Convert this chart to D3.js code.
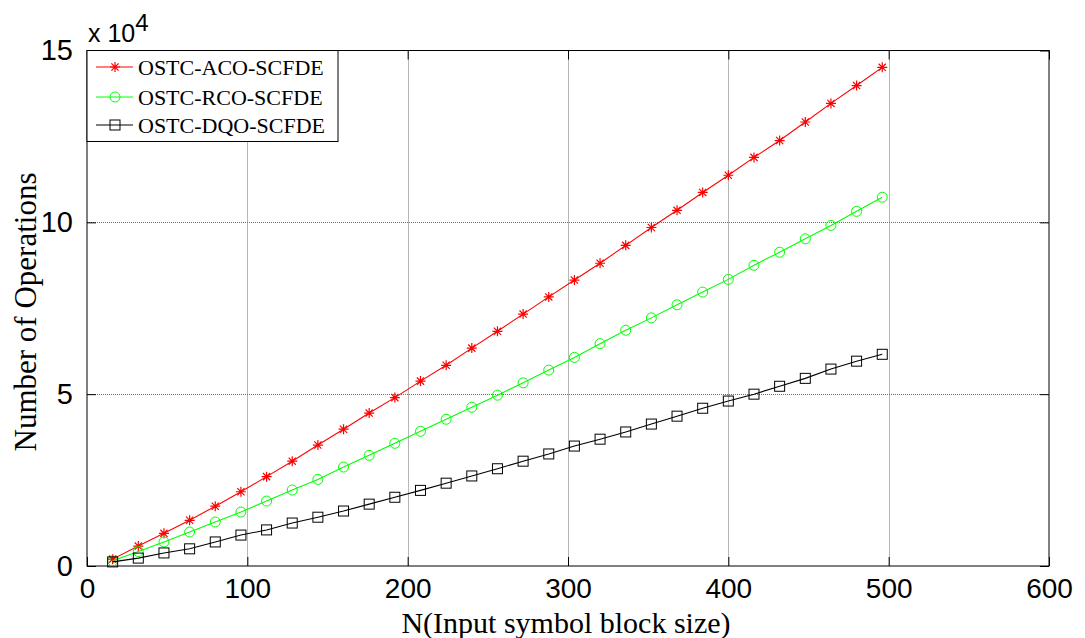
<!DOCTYPE html>
<html>
<head>
<meta charset="utf-8">
<script src="https://cdn.jsdelivr.net/npm/d3@7"></script>
<style>
  html, body { margin: 0; padding: 0; background: #fff; }
  svg { display: block; }
</style>
</head>
<body>
<svg id="chart" width="1085" height="638"></svg>
<script>
// ---- data ----
const blockSizes = [16,32,48,64,80,96,112,128,144,160,176,192,208,224,240,256,272,288,304,320,336,352,368,384,400,416,432,448,464,480,496];
const acoOps = [0.20,0.58,0.95,1.33,1.74,2.16,2.60,3.05,3.52,3.98,4.45,4.90,5.38,5.84,6.34,6.83,7.33,7.83,8.32,8.81,9.33,9.85,10.35,10.87,11.37,11.89,12.38,12.92,13.46,13.98,14.51];
const rcoOps = [0.15,0.42,0.70,0.99,1.28,1.57,1.89,2.21,2.52,2.88,3.22,3.57,3.92,4.27,4.62,4.97,5.33,5.70,6.07,6.47,6.86,7.22,7.60,7.97,8.34,8.75,9.13,9.52,9.91,10.32,10.73];
const dqoOps = [0.12,0.23,0.38,0.50,0.70,0.90,1.05,1.25,1.42,1.60,1.80,2.00,2.20,2.41,2.62,2.83,3.05,3.26,3.49,3.69,3.90,4.13,4.36,4.59,4.80,5.00,5.23,5.46,5.73,5.96,6.16];
const seriesNames = ["OSTC-ACO-SCFDE","OSTC-RCO-SCFDE","OSTC-DQO-SCFDE"];
const xTicks = [0,100,200,300,400,500,600];
const yTicks = [0,5,10,15];

const series = [
  {name: seriesNames[0], values: acoOps, color: "#ff0000", marker: "star"},
  {name: seriesNames[1], values: rcoOps, color: "#00ff00", marker: "circle"},
  {name: seriesNames[2], values: dqoOps, color: "#000000", marker: "square"}
];

const svg = d3.select("#chart");
const L = 87, R = 1049, T = 50.5, B = 566;
const x = d3.scaleLinear().domain([0,600]).range([L,R]);
const y = d3.scaleLinear().domain([0,15]).range([B,T]);

// grid
const grid = svg.append("g");
xTicks.forEach(t => {
  if (t === 0 || t === 600) return;
  const xx = Math.round(x(t)) + 0.5;
  grid.append("line").attr("x1", xx).attr("x2", xx).attr("y1", T).attr("y2", B)
    .attr("stroke", "#6e6e6e").attr("stroke-width", 1).attr("stroke-dasharray", "1,1");
});
yTicks.forEach(t => {
  if (t === 0 || t === 15) return;
  const yy = Math.round(y(t)) + 0.5;
  grid.append("line").attr("x1", L).attr("x2", R).attr("y1", yy).attr("y2", yy)
    .attr("stroke", "#6e6e6e").attr("stroke-width", 1).attr("stroke-dasharray", "1,1");
});

// axes box
svg.append("rect").attr("x", L).attr("y", T).attr("width", R - L).attr("height", B - T)
  .attr("fill", "none").attr("stroke", "#000").attr("stroke-width", 1);

// axes with inward ticks
const xAxisB = d3.axisBottom(x).tickValues(xTicks).tickSizeInner(-9).tickSizeOuter(0).tickPadding(12);
const gx = svg.append("g").attr("transform", `translate(0,${B})`).call(xAxisB);
gx.select(".domain").remove();
gx.selectAll("text").attr("font-family", "'Liberation Sans', Arial, sans-serif").attr("font-size", 28).attr("fill", "#000");
gx.selectAll("line").attr("stroke", "#000");

const xAxisT = d3.axisTop(x).tickValues(xTicks).tickSizeInner(-9).tickSizeOuter(0).tickFormat("");
const gxt = svg.append("g").attr("transform", `translate(0,${T})`).call(xAxisT);
gxt.select(".domain").remove();
gxt.selectAll("line").attr("stroke", "#000");

const yAxisL = d3.axisLeft(y).tickValues(yTicks).tickSizeInner(-9).tickSizeOuter(0).tickPadding(14);
const gy = svg.append("g").attr("transform", `translate(${L},0)`).call(yAxisL);
gy.select(".domain").remove();
gy.selectAll("text").attr("font-family", "'Liberation Sans', Arial, sans-serif").attr("font-size", 29).attr("fill", "#000");
gy.selectAll("line").attr("stroke", "#000");

const yAxisR = d3.axisRight(y).tickValues(yTicks).tickSizeInner(-9).tickSizeOuter(0).tickFormat("");
const gyr = svg.append("g").attr("transform", `translate(${R},0)`).call(yAxisR);
gyr.select(".domain").remove();
gyr.selectAll("line").attr("stroke", "#000");

// exponent label
const ex = svg.append("text").attr("x", 88).attr("y", 42)
  .attr("font-family", "'Liberation Sans', Arial, sans-serif").attr("font-size", 25).attr("fill", "#000");
ex.append("tspan").text("x 10");
ex.append("tspan").attr("dy", -11).attr("font-size", 24).text("4");

// marker drawing
function drawMarker(g, type, cx, cy, color) {
  if (type === "star") {
    const s = 5;
    const d = `M${cx-s},${cy}L${cx+s},${cy}M${cx},${cy-s}L${cx},${cy+s}` +
              `M${cx-s*0.72},${cy-s*0.72}L${cx+s*0.72},${cy+s*0.72}M${cx-s*0.72},${cy+s*0.72}L${cx+s*0.72},${cy-s*0.72}`;
    g.append("path").attr("d", d).attr("stroke", color).attr("stroke-width", 1.2).attr("fill", "none");
  } else if (type === "circle") {
    g.append("circle").attr("cx", cx).attr("cy", cy).attr("r", 5)
      .attr("fill", "none").attr("stroke", color).attr("stroke-width", 1);
  } else {
    g.append("rect").attr("x", cx - 5).attr("y", cy - 5).attr("width", 10).attr("height", 10)
      .attr("fill", "none").attr("stroke", color).attr("stroke-width", 1);
  }
}

// lines
const line = d3.line().x(d => x(d[0])).y(d => y(d[1]));
series.forEach(s => {
  const pts = blockSizes.map((n, i) => [n, s.values[i]]);
  const g = svg.append("g");
  g.append("path").datum(pts).attr("d", line).attr("fill", "none")
    .attr("stroke", s.color).attr("stroke-width", 1.1);
  pts.forEach(p => drawMarker(g, s.marker, x(p[0]), y(p[1]), s.color));
});

// legend
const lg = svg.append("g");
lg.append("rect").attr("x", L).attr("y", T).attr("width", 251).attr("height", 91)
  .attr("fill", "#fff").attr("stroke", "#000").attr("stroke-width", 1);
const legendY = [67, 97, 125];
series.forEach((s, i) => {
  const yy = legendY[i];
  lg.append("line").attr("x1", 96).attr("x2", 133).attr("y1", yy).attr("y2", yy)
    .attr("stroke", s.color).attr("stroke-width", 1.1);
  drawMarker(lg, s.marker, 115, yy, s.color);
  lg.append("text").attr("x", 138).attr("y", yy + 7.5).text(s.name)
    .attr("font-family", "'Liberation Serif', 'Times New Roman', serif").attr("font-size", 22).attr("fill", "#000");
});

// axis titles
svg.append("text").attr("x", 566).attr("y", 633).attr("text-anchor", "middle")
  .attr("font-family", "'Liberation Serif', 'Times New Roman', serif").attr("font-size", 30).attr("fill", "#000")
  .text("N(Input symbol block size)");
svg.append("text").attr("transform", "translate(36,312) rotate(-90)").attr("text-anchor", "middle")
  .attr("font-family", "'Liberation Serif', 'Times New Roman', serif").attr("font-size", 31).attr("fill", "#000")
  .text("Number of Operations");
</script>
</body>
</html>
